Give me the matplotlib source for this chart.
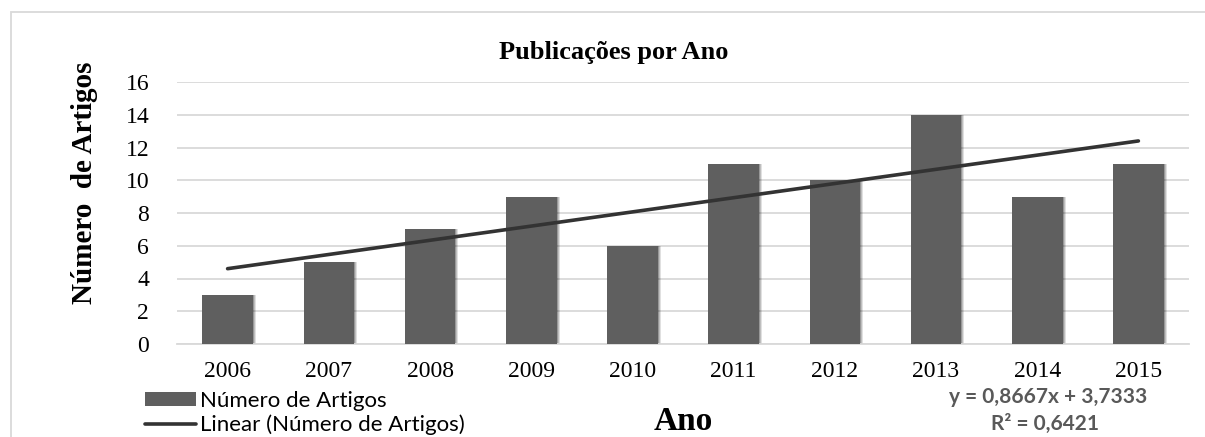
import matplotlib.pyplot as plt
import numpy as np

anos = ['2006', '2007', '2008', '2009', '2010', '2011', '2012', '2013', '2014', '2015']
artigos = [3, 5, 7, 9, 6, 11, 10, 14, 9, 11]

x = np.arange(len(anos))
coef = np.polyfit(x + 1, artigos, 1)
tend = np.polyval(coef, x + 1)

fig = plt.figure(figsize=(12.05, 4.37), dpi=100)
ax = fig.add_axes([177 / 1205, 1 - 344 / 437, (1189 - 177) / 1205, (344 - 82) / 437])

serif = ['Liberation Serif', 'DejaVu Serif']
sans = ['Lato', 'DejaVu Sans']

# sombra das barras
for dx, a in [(0.03, 0.12), (0.02, 0.15), (0.01, 0.2)]:
    ax.bar(x + dx, artigos, width=0.5, color='black', alpha=a, zorder=2, linewidth=0)
barras = ax.bar(x, artigos, width=0.5, color='#5f5f5f', zorder=3, label='Número de Artigos')
linha, = ax.plot(x, tend, color='#333333', lw=2.6, zorder=4, solid_capstyle='round',
                 label='Linear (Número de Artigos)')

ax.set_xlim(-0.5, 9.5)
ax.set_ylim(0, 16)
ax.set_yticks(range(0, 17, 2))
ax.set_xticks(x)
ax.set_xticklabels(anos)
for lab in ax.get_xticklabels() + ax.get_yticklabels():
    lab.set_family(serif)
    lab.set_fontsize(17)
ax.tick_params(length=0)
ax.tick_params(axis='y', pad=20)
ax.tick_params(axis='x', pad=12)
ax.grid(axis='y', color='#d9d9d9', lw=1.3, zorder=0)
for s in ['top', 'right', 'left']:
    ax.spines[s].set_visible(False)
ax.spines['bottom'].set_color('#d9d9d9')
ax.spines['bottom'].set_linewidth(1.3)

fig.text(614 / 1205, 1 - 53 / 437, 'Publicações por Ano', family=serif, fontsize=19,
         fontweight='bold', ha='center', va='center')
fig.text(85 / 1205, 1 - 183 / 437, 'Número  de Artigos', family=serif, fontsize=21,
         fontweight='bold', rotation=90, ha='center', va='center')
fig.text(683 / 1205, 1 - 421 / 437, 'Ano', family=serif, fontsize=24,
         fontweight='bold', ha='center', va='center')

fig.text(1048 / 1205, 1 - 397 / 437, 'y = 0,8667x + 3,7333', family=sans, fontsize=15,
         fontweight='bold', color='#595959', ha='center', va='center')
fig.text(1045 / 1205, 1 - 424 / 437, 'R² = 0,6421', family=sans, fontsize=15,
         fontweight='bold', color='#595959', ha='center', va='center')

leg = fig.legend(handles=[barras, linha], loc='upper left', bbox_to_anchor=(136 / 1205, 1 - 382 / 437),
                 frameon=False, prop={'family': sans, 'size': 16}, handlelength=2.3,
                 handleheight=0.55, handletextpad=0.2, labelspacing=0.15, borderaxespad=0)

fig.patches.append(plt.Rectangle((11 / 1205, -0.1), 1.2, 1 - 12 / 437 + 0.1, transform=fig.transFigure,
                                 fill=False, edgecolor='#d9d9d9', lw=1.3))

fig.savefig('out.png', dpi=100)
